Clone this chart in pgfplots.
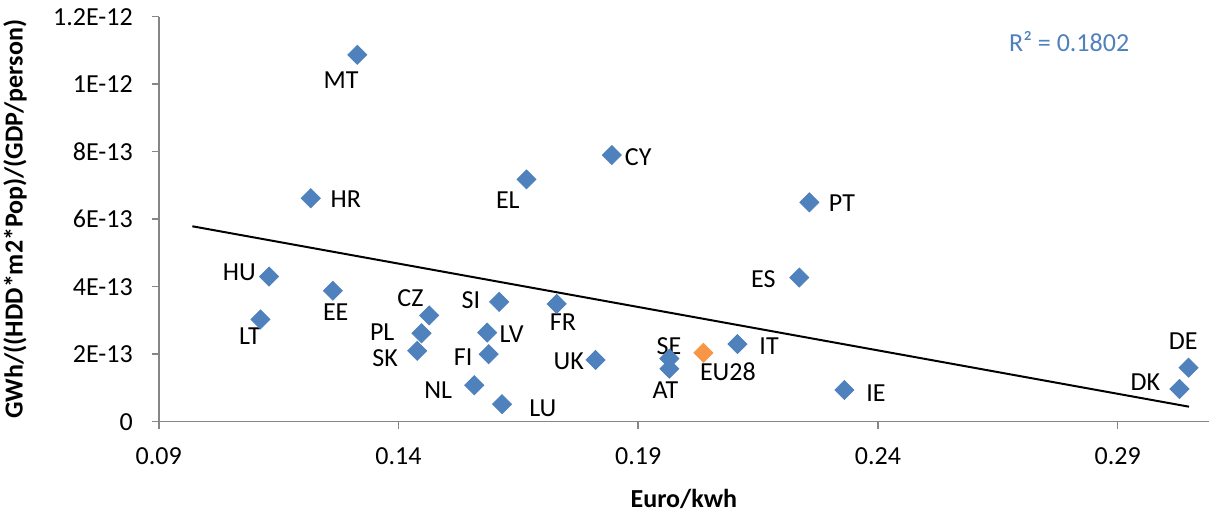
\documentclass[border=0pt]{standalone}
\usepackage{fontspec}
\setmainfont{Carlito}
\usepackage{pgfplots}
\usepackage{pgfplotstable}
\pgfplotsset{compat=1.18}
\definecolor{exblue}{HTML}{4F81BD}
\definecolor{exorange}{HTML}{F79646}
\definecolor{axgray}{HTML}{868686}
\pgfplotstableread{
name x y
MT 0.1314 1.087e-12
HR 0.1217 6.62e-13
EL 0.1667 7.18e-13
CY 0.1845 7.90e-13
PT 0.2257 6.50e-13
HU 0.1130 4.30e-13
LT 0.1112 3.03e-13
EE 0.1263 3.88e-13
CZ 0.1464 3.15e-13
PL 0.1448 2.62e-13
SK 0.1439 2.10e-13
SI 0.1610 3.55e-13
LV 0.1585 2.64e-13
FI 0.1588 2.00e-13
NL 0.1558 1.08e-13
LU 0.1616 5.2e-14
FR 0.1730 3.49e-13
UK 0.1811 1.83e-13
ES 0.2236 4.27e-13
SE 0.1965 1.87e-13
AT 0.1965 1.57e-13
IT 0.2107 2.30e-13
IE 0.2330 9.4e-14
DE 0.3048 1.60e-13
DK 0.3029 9.7e-14
}\countries
\pgfplotstableread{
name x y
EU28 0.2036 2.04e-13
}\eu
\pgfplotstableread{
x y
0.0970 5.79e-13
0.3049 4.44e-14
}\trend
\begin{document}
\fontsize{13pt}{15.6pt}\selectfont
\begin{tikzpicture}
\path[use as bounding box] (-79.4pt,-45.15pt) rectangle (525.1pt,210.85pt);
\begin{axis}[
  at={(0pt,0pt)}, anchor=south west,
  scale only axis, width=525.1pt, height=202.5pt,
  xmin=0.09, xmax=0.30906, ymin=0, ymax=1.2e-12,
  axis x line=bottom, axis y line=left,
  axis line style={draw=axgray, line width=0.75pt, -},
  tick style={draw=axgray, line width=0.75pt},
  tick align=outside, major tick length=3.5pt,
  scaled x ticks=false, scaled y ticks=false,
  xtick={0.09,0.14,0.19,0.24,0.29},
  xticklabels={0.09,0.14,0.19,0.24,0.29},
  ytick={0,2e-13,4e-13,6e-13,8e-13,1e-12,1.2e-12},
  yticklabels={0,2E-13,4E-13,6E-13,8E-13,1E-12,1.2E-12},
  xticklabel style={yshift=-5pt},
  yticklabel style={xshift=-5pt},
  xlabel={\bfseries Euro/kwh},
  ylabel={\bfseries GWh/((HDD*m2*Pop)/(GDP/person)},
  xlabel style={at={(axis description cs:0.5,-0.19)}, anchor=center},
  ylabel style={at={(axis description cs:-0.137,0.5)}, anchor=center},
  clip=false,
]
\addplot[black, line width=1pt] table[x=x,y=y] {\trend};
\addplot[only marks, mark=square*, mark size=3.36pt, color=exblue,
  mark options={rotate=45, fill=exblue, draw=exblue}] table[x=x,y=y] {\countries};
\addplot[only marks, mark=square*, mark size=3.36pt, color=exorange,
  mark options={rotate=45, fill=exorange, draw=exorange}] table[x=x,y=y] {\eu};
\node at (axis cs:0.1280,1.0124e-12) {MT};
\node at (axis cs:0.1290,6.60e-13) {HR};
\node at (axis cs:0.1628,6.57e-13) {EL};
\node at (axis cs:0.1900,7.83e-13) {CY};
\node at (axis cs:0.2325,6.48e-13) {PT};
\node at (axis cs:0.1068,4.415e-13) {HU};
\node at (axis cs:0.1090,2.52e-13) {LT};
\node at (axis cs:0.1269,3.26e-13) {EE};
\node at (axis cs:0.1425,3.67e-13) {CZ};
\node at (axis cs:0.1366,2.667e-13) {PL};
\node at (axis cs:0.1372,1.896e-13) {SK};
\node at (axis cs:0.1551,3.606e-13) {SI};
\node at (axis cs:0.1636,2.60e-13) {LV};
\node at (axis cs:0.1535,1.926e-13) {FI};
\node at (axis cs:0.1483,0.939e-13) {NL};
\node at (axis cs:0.1701,0.397e-13) {LU};
\node at (axis cs:0.1743,2.963e-13) {FR};
\node at (axis cs:0.1755,1.778e-13) {UK};
\node at (axis cs:0.2161,4.22e-13) {ES};
\node at (axis cs:0.1964,2.252e-13) {SE};
\node at (axis cs:0.1957,0.939e-13) {AT};
\node at (axis cs:0.2087,1.48e-13) {EU28};
\node at (axis cs:0.2173,2.243e-13) {IT};
\node at (axis cs:0.2396,0.859e-13) {IE};
\node at (axis cs:0.3037,2.39e-13) {DE};
\node at (axis cs:0.2958,1.185e-13) {DK};
\node[text=exblue] at (axis cs:0.2799,1.126e-12) {R² = 0.1802};
\end{axis}
\end{tikzpicture}
\end{document}
